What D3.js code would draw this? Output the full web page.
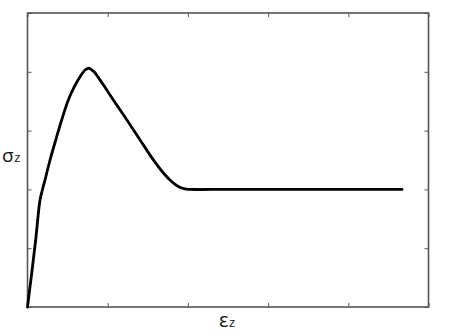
<!DOCTYPE html>
<html><head><meta charset="utf-8">
<script src="https://cdn.jsdelivr.net/npm/d3@7"></script>
<style>body{margin:0;background:#fff}svg{display:block}</style>
</head><body>
<svg id="c" width="450" height="334"></svg>
<script>
const strainX = [0, 0.102, 0.127, 0.156, 0.185, 0.218, 0.281, 0.352, 0.426, 0.509, 0.584, 0.655, 0.717, 0.758, 0.79, 0.83, 0.88, 0.95, 1.066, 1.24, 1.40, 1.565, 1.70, 1.80, 1.88, 1.95, 2.02, 2.3, 3.0, 4.0, 4.67];
const stressY = [0, 1.139, 1.48, 1.82, 1.99, 2.16, 2.50, 2.84, 3.18, 3.52, 3.747, 3.917, 4.031, 4.06, 4.045, 4.0, 3.91, 3.77, 3.53, 3.18, 2.85, 2.51, 2.27, 2.13, 2.05, 2.012, 2.0, 2.0, 2.0, 2.0, 2.0];
const xTicks = [0, 1, 2, 3, 4, 5];
const yTicks = [0, 1, 2, 3, 4, 5];
const xLabel = "ε";
const yLabel = "σ";
const sub = "z";

const svg = d3.select("#c");
const L = 27.5, R = 428.5, T = 13, B = 307;
const x = d3.scaleLinear().domain([0, 5]).range([L, R]);
const y = d3.scaleLinear().domain([0, 5]).range([B, T]);
const frame = "#555";
const tl = 4;

const g = svg.append("g");
g.append("g").attr("transform", `translate(0,${B})`).call(d3.axisBottom(x).tickValues(xTicks).tickSize(-tl).tickFormat(""));
g.append("g").attr("transform", `translate(0,${T})`).call(d3.axisTop(x).tickValues(xTicks).tickSize(-tl).tickFormat(""));
g.append("g").attr("transform", `translate(${L},0)`).call(d3.axisLeft(y).tickValues(yTicks).tickSize(-tl).tickFormat(""));
g.append("g").attr("transform", `translate(${R},0)`).call(d3.axisRight(y).tickValues(yTicks).tickSize(-tl).tickFormat(""));
g.selectAll(".domain").remove();
g.selectAll(".tick line").attr("stroke", frame).attr("stroke-width", 1);

svg.append("rect").attr("x", L).attr("y", T).attr("width", R - L).attr("height", B - T)
  .attr("fill", "none").attr("stroke", frame).attr("stroke-width", 1.6);

const pts = strainX.map((d, i) => [d, stressY[i]]);
const line = d3.line().x(d => x(d[0])).y(d => y(d[1])).curve(d3.curveCatmullRom.alpha(0.5));
svg.append("path").datum(pts).attr("d", line).attr("fill", "none")
  .attr("stroke", "#000").attr("stroke-width", 2.8).attr("stroke-linejoin", "round").attr("stroke-linecap", "round");

const yl = svg.append("text").attr("x", 2).attr("y", 162).attr("font-family", "Open Sans").attr("fill", "#111");
yl.append("tspan").attr("font-size", 19).text(yLabel);
yl.append("tspan").attr("font-size", 13).attr("dx", 0.5).text(sub);

const xl = svg.append("text").attr("x", 219).attr("y", 327).attr("font-family", "Open Sans").attr("fill", "#111");
xl.append("tspan").attr("font-size", 20).text(xLabel);
xl.append("tspan").attr("font-size", 13).attr("dx", 0.5).text(sub);
</script>
</body></html>
